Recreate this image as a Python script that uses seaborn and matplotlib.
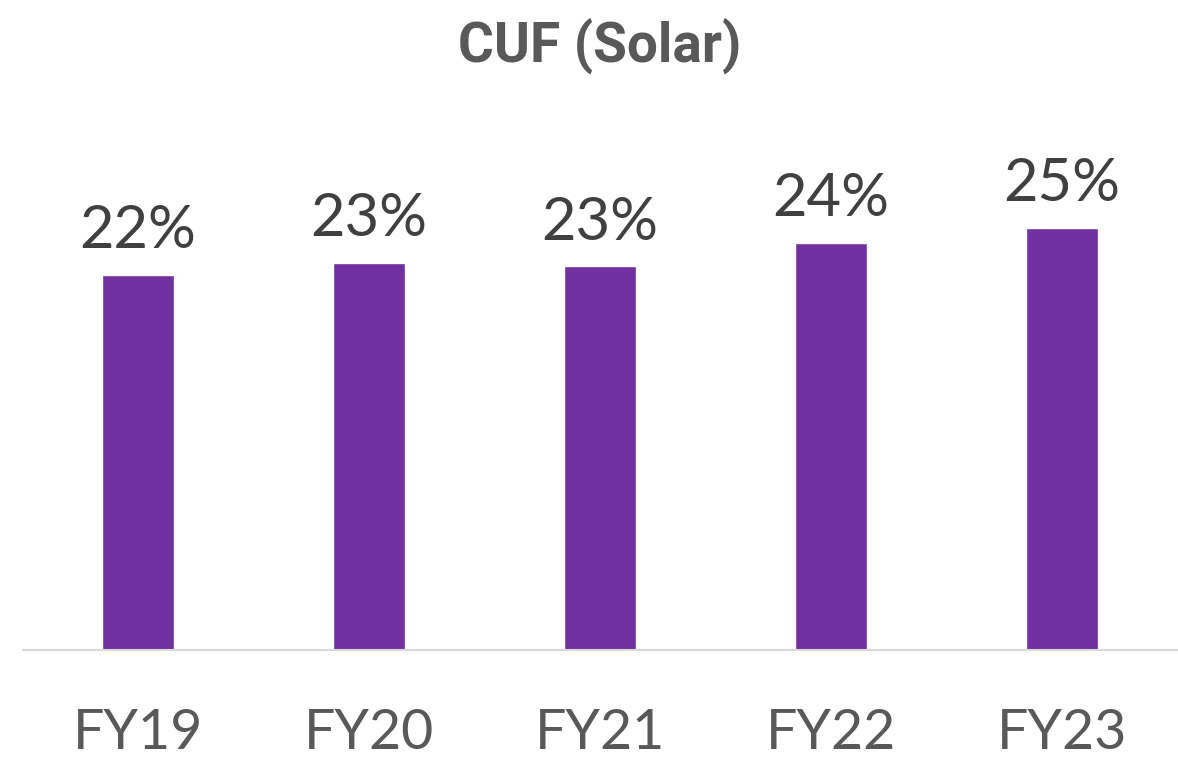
import matplotlib
matplotlib.use("Agg")
import matplotlib.pyplot as plt
import seaborn as sns
import pandas as pd

# values (CUF %, solar)
years = ["FY19", "FY20", "FY21", "FY22", "FY23"]
cuf = [22.2, 22.9, 22.7, 24.1, 25.0]

bar_color = "#7030A0"
text_dark = "#404040"
text_grey = "#595959"

sns.set_theme(style="white")
plt.rcParams["font.family"] = ["Lato", "DejaVu Sans"]

df = pd.DataFrame({"year": years, "cuf": cuf})

fig = plt.figure(figsize=(11.78, 7.64), dpi=100)
# axes placed so that the category slots span the full width
ax = fig.add_axes([22.5 / 1178, 114 / 764, 1155 / 1178, 550 / 764])

sns.barplot(data=df, x="year", y="cuf", color=bar_color, saturation=1,
            width=0.31, ax=ax)

ax.set_xlim(-0.5, len(years) - 0.5)
ax.set_ylim(0, 550 / 16.9)

# data labels
ax.bar_label(ax.containers[0], labels=[f"{v:.0f}%" for v in cuf],
             padding=12, fontsize=43, color=text_dark)

for s in ["top", "left", "right"]:
    ax.spines[s].set_visible(False)
ax.spines["bottom"].set_color("#D9D9D9")
ax.spines["bottom"].set_linewidth(1.5)

ax.set_yticks([])
ax.set_xlabel("")
ax.set_ylabel("")
ax.tick_params(axis="x", length=0, pad=42, labelsize=40, labelcolor=text_grey)

# title sits over the plot centre, not the figure centre
fig.text(600 / 1178, 1 - 62 / 764, "CUF (Solar)", ha="center", va="baseline",
         fontsize=39.5, fontweight="bold", color=text_grey, family=["Roboto", "DejaVu Sans"])

fig.savefig("out.png", dpi=100, facecolor="white")
